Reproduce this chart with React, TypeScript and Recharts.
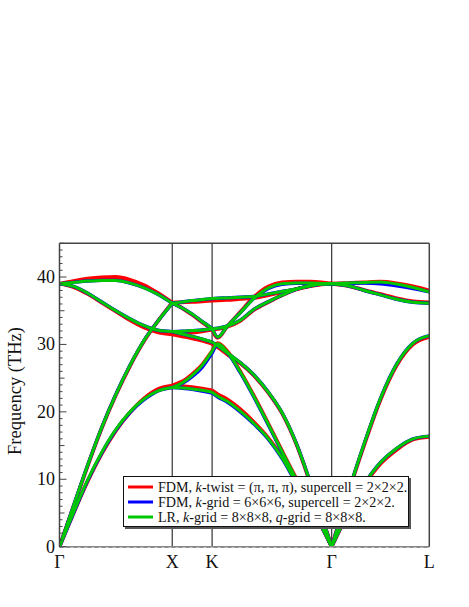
import React from "react";
import { LineChart, Line, XAxis, YAxis, ReferenceLine } from "recharts";

// high-symmetry points along the path (units of 2π/a)
const HIGH_SYM = [0, 1, 1.3536, 2.4142, 3.2802];
const HIGH_SYM_LABELS = ["Γ", "X", "K", "Γ", "L"];
const Y_TICKS = Array.from({ length: 46 }, (_, i) => i);

// k samples per segment
const kGX = [0, 0.125, 0.25, 0.375, 0.5, 0.625, 0.75, 0.875, 1.0];
const kXK = [1.0, 1.0884, 1.1768, 1.2652, 1.3536];
const kKG = [1.3536, 1.4036, 1.4836, 1.6036, 1.7236, 1.8536, 1.9736, 2.1036, 2.2236, 2.3236, 2.4142];
const kGL = [2.4142, 2.5585, 2.7029, 2.8472, 2.9915, 3.1359, 3.2802];

// LR, k-grid 8x8x8 (green)
const lrGX = [
  [0, 5.1, 9.9, 14.0, 17.4, 20.0, 21.9, 23.1, 23.6],
  [0, 6.1, 12.1, 17.7, 22.6, 26.9, 30.6, 33.5, 36.1],
  [39.0, 38.6, 37.6, 36.3, 35.0, 33.8, 32.8, 32.1, 31.9],
  [39.0, 39.2, 39.4, 39.5, 39.5, 39.1, 38.4, 37.4, 36.1],
];
const lrXK = [
  [36.1, 36.3, 36.5, 36.65, 36.8],
  [36.1, 35.4, 34.5, 33.4, 32.4],
  [31.9, 31.95, 32.05, 32.15, 32.3],
  [31.9, 31.55, 31.2, 30.8, 30.35],
  [23.6, 24.3, 25.4, 26.9, 29.0],
  [23.6, 23.55, 23.4, 23.2, 22.9],
];
const lrKG = [
  [36.8, 36.85, 36.9, 37.0, 37.1, 37.5, 37.85, 38.25, 38.7, 38.95, 39.0],
  [32.4, 31.1, 32.6, 34.7, 36.8, 38.4, 39.0, 39.1, 39.1, 39.05, 39.0],
  [32.3, 32.4, 32.7, 33.6, 35.2, 36.35, 37.3, 38.2, 38.7, 38.95, 39.0],
  [30.35, 29.8, 28.8, 27.3, 25.5, 22.9, 19.9, 15.2, 9.6, 4.6, 0],
  [29.0, 30.1, 29.0, 25.9, 22.3, 18.1, 14.1, 9.9, 6.3, 3.2, 0],
  [22.9, 22.3, 21.6, 20.1, 18.3, 16.0, 13.2, 9.4, 6.0, 3.0, 0],
];
const lrGL = [
  [0, 5.0, 9.3, 12.5, 14.6, 16.0, 16.4],
  [0, 7.9, 15.3, 22.0, 27.1, 30.2, 31.3],
  [39.0, 38.7, 38.0, 37.35, 36.7, 36.25, 36.1],
  [39.0, 39.1, 39.2, 39.25, 38.95, 38.45, 37.8],
];

// FDM, k-twist (red)
const twistGX = [
  [0, 5.0, 9.7, 13.8, 17.2, 19.9, 22.0, 23.4, 23.9],
  [0, 6.0, 12.0, 17.6, 22.5, 26.8, 30.5, 33.5, 36.2],
  [39.0, 38.5, 37.5, 36.2, 34.9, 33.6, 32.5, 31.8, 31.5],
  [39.0, 39.4, 39.75, 39.95, 40.0, 39.6, 38.8, 37.6, 36.2],
];
const twistXK = [
  [36.2, 36.25, 36.3, 36.4, 36.5],
  [36.2, 35.4, 34.4, 33.3, 32.3],
  [31.5, 31.6, 31.75, 31.95, 32.2],
  [31.5, 31.2, 30.9, 30.55, 30.1],
  [23.9, 24.5, 25.6, 27.0, 29.0],
  [23.9, 23.8, 23.65, 23.45, 23.2],
];
const twistKG = [
  [36.5, 36.55, 36.6, 36.75, 36.9, 37.3, 37.75, 38.2, 38.65, 38.9, 39.0],
  [32.3, 31.0, 32.6, 34.8, 37.0, 38.6, 39.2, 39.3, 39.3, 39.2, 39.0],
  [32.2, 32.3, 32.6, 33.5, 35.1, 36.3, 37.3, 38.2, 38.7, 38.95, 39.0],
  [30.1, 29.6, 28.6, 27.2, 25.4, 22.8, 19.8, 15.1, 9.5, 4.6, 0],
  [29.0, 30.2, 29.1, 26.0, 22.4, 18.2, 14.2, 10.0, 6.4, 3.2, 0],
  [23.2, 22.6, 21.9, 20.4, 18.5, 16.1, 13.3, 9.5, 6.1, 3.0, 0],
];
const twistGL = [
  [0, 4.9, 9.1, 12.3, 14.4, 15.9, 16.3],
  [0, 7.8, 15.1, 21.8, 26.9, 30.0, 31.1],
  [39.0, 38.7, 38.05, 37.45, 36.85, 36.4, 36.25],
  [39.0, 39.1, 39.2, 39.3, 39.05, 38.6, 38.0],
];

// FDM, k-grid 6x6x6 (blue)
const gridGX = [
  [0, 5.0, 9.8, 13.9, 17.3, 19.9, 21.8, 23.1, 23.6],
  [0, 6.1, 12.1, 17.7, 22.6, 26.9, 30.6, 33.5, 36.1],
  [39.0, 38.6, 37.6, 36.3, 35.0, 33.8, 32.8, 32.1, 31.9],
  [39.0, 39.2, 39.4, 39.5, 39.5, 39.1, 38.4, 37.4, 36.1],
];
const gridXK = [
  [36.1, 36.3, 36.5, 36.65, 36.8],
  [36.1, 35.4, 34.5, 33.4, 32.4],
  [31.9, 31.95, 32.05, 32.15, 32.3],
  [31.9, 31.55, 31.2, 30.8, 30.35],
  [23.6, 24.2, 25.2, 26.6, 28.7],
  [23.6, 23.5, 23.35, 23.1, 22.8],
];
const gridKG = [
  [36.8, 36.85, 36.9, 37.0, 37.1, 37.5, 37.85, 38.25, 38.7, 38.95, 39.0],
  [32.4, 31.1, 32.6, 34.7, 36.8, 38.3, 38.9, 39.05, 39.05, 39.0, 39.0],
  [32.3, 32.4, 32.7, 33.6, 35.2, 36.35, 37.3, 38.2, 38.7, 38.95, 39.0],
  [30.35, 29.8, 28.8, 27.3, 25.5, 22.9, 19.9, 15.2, 9.6, 4.6, 0],
  [28.7, 29.9, 28.9, 25.8, 22.2, 18.0, 14.0, 9.8, 6.2, 3.1, 0],
  [22.8, 22.2, 21.5, 20.0, 18.2, 15.9, 13.1, 9.3, 5.9, 3.0, 0],
];
const gridGL = [
  [0, 5.0, 9.3, 12.5, 14.6, 16.0, 16.4],
  [0, 7.9, 15.3, 22.0, 27.1, 30.2, 31.3],
  [39.0, 38.7, 38.0, 37.35, 36.7, 36.25, 36.1],
  [39.0, 39.05, 39.1, 39.0, 38.7, 38.3, 37.8],
];

const SEGMENT_K = [kGX, kXK, kKG, kGL];

const SERIES = [
  {
    id: "twist",
    color: "#ff0000",
    width: 3.8,
    bands: [twistGX, twistXK, twistKG, twistGL],
    label: (
      <>
        FDM, <i>k</i>-twist = (π, π, π), supercell = 2×2×2.
      </>
    ),
  },
  {
    id: "grid",
    color: "#0000ff",
    width: 3.4,
    bands: [gridGX, gridXK, gridKG, gridGL],
    label: (
      <>
        FDM, <i>k</i>-grid = 6×6×6, supercell = 2×2×2.
      </>
    ),
  },
  {
    id: "lr",
    color: "#00c800",
    width: 3,
    bands: [lrGX, lrXK, lrKG, lrGL],
    label: (
      <>
        LR, <i>k</i>-grid = 8×8×8, <i>q</i>-grid = 8×8×8.
      </>
    ),
  },
];

const FONT = "'Liberation Serif', 'DejaVu Serif', serif";
const FRAME = "#444";

function LeftTick(props: any) {
  const { x, y, payload } = props;
  const v = payload.value;
  const len = v % 10 === 0 ? 7 : v % 5 === 0 ? 5 : 3;
  return (
    <g>
      <line x1={x} x2={x + len} y1={y} y2={y} stroke={FRAME} strokeWidth={1} />
      {v % 10 === 0 && (
        <text
          x={x - 4.5}
          y={y + 6}
          textAnchor="end"
          fontFamily={FONT}
          fontSize={18}
          fill="#111"
        >
          {v}
        </text>
      )}
    </g>
  );
}

function RightTick(props: any) {
  const { x, y, payload } = props;
  const v = payload.value;
  const len = v % 10 === 0 ? 7 : v % 5 === 0 ? 5 : 3;
  return <line x1={x - len} x2={x} y1={y} y2={y} stroke={FRAME} strokeWidth={1} />;
}

function BottomTick(props: any) {
  const { x, y, payload } = props;
  const idx = HIGH_SYM.indexOf(payload.value);
  return (
    <text
      x={x}
      y={y + 21.6}
      textAnchor="middle"
      fontFamily={FONT}
      fontSize={18}
      fill="#111"
    >
      {HIGH_SYM_LABELS[idx]}
    </text>
  );
}

export default function App() {
  return (
    <div style={{ position: "absolute", left: 0, top: 0, width: 469, height: 607 }}>
      <LineChart
        width={469}
        height={607}
        margin={{ top: 243.3, right: 0, bottom: 30.3, left: 0 }}
      >
        <XAxis
          type="number"
          dataKey="k"
          domain={[0, HIGH_SYM[HIGH_SYM.length - 1]]}
          ticks={HIGH_SYM}
          interval={0}
          tickLine={false}
          tickSize={0}
          tickMargin={0}
          tick={<BottomTick />}
          axisLine={{ stroke: "#888", strokeWidth: 1.5 }}
          height={30}
          allowDataOverflow
        />
        <YAxis
          type="number"
          domain={[0, 45]}
          ticks={Y_TICKS}
          interval={0}
          tickLine={false}
          tickSize={0}
          tickMargin={0}
          tick={<LeftTick />}
          axisLine={{ stroke: FRAME, strokeWidth: 1.5 }}
          width={59.5}
          allowDataOverflow
          label={{
            content: () => (
              <text
                transform="translate(21,391) rotate(-90)"
                textAnchor="middle"
                fontFamily={FONT}
                fontSize={18.5}
                fill="#111"
              >
                Frequency (THz)
              </text>
            ),
          }}
        />
        <YAxis
          yAxisId="right"
          orientation="right"
          type="number"
          domain={[0, 45]}
          ticks={Y_TICKS}
          interval={0}
          tickLine={false}
          tickSize={0}
          tickMargin={0}
          tick={<RightTick />}
          axisLine={{ stroke: FRAME, strokeWidth: 1.5 }}
          width={39.7}
        />
        <ReferenceLine y={45} stroke={FRAME} strokeWidth={1.5} />
        <ReferenceLine y={0} stroke="#222" strokeWidth={1.5} strokeDasharray="4 3" />
        {HIGH_SYM.slice(1, -1).map((k) => (
          <ReferenceLine key={k} x={k} stroke="#333" strokeWidth={1.2} />
        ))}
        {SERIES.map((s) =>
          s.bands.map((seg, si) =>
            seg.map((vals, bi) => (
              <Line
                key={`${s.id}-${si}-${bi}`}
                data={SEGMENT_K[si].map((k, i) => ({ k, v: vals[i] }))}
                dataKey="v"
                type="monotone"
                stroke={s.color}
                strokeWidth={s.width}
                dot={false}
                activeDot={false}
                isAnimationActive={false}
                legendType="none"
              />
            ))
          )
        )}
      </LineChart>
      <div
        style={{
          position: "absolute",
          left: 123,
          top: 476,
          width: 286,
          height: 51,
          boxSizing: "border-box",
          border: "1px solid #111",
          background: "#fff",
          boxShadow: "2px 2px 0 #555",
          fontFamily: FONT,
          fontSize: 14.1,
          color: "#111",
        }}
      >
        {SERIES.map((s, i) => (
          <div
            key={s.id}
            style={{
              position: "absolute",
              left: 4,
              top: 2.5 + i * 15,
              height: 15,
              display: "flex",
              alignItems: "center",
              whiteSpace: "nowrap",
              lineHeight: "15px",
            }}
          >
            <svg width={25} height={6} style={{ marginRight: 5 }}>
              <line x1={0} x2={25} y1={3} y2={3} stroke={s.color} strokeWidth={3} />
            </svg>
            <span>{s.label}</span>
          </div>
        ))}
      </div>
    </div>
  );
}
